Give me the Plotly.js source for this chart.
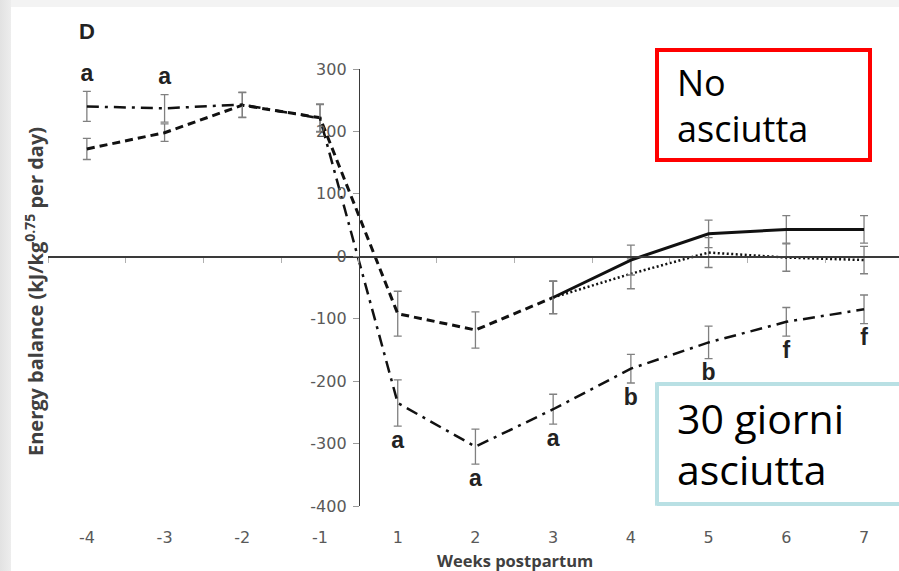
<!DOCTYPE html>
<html>
<head>
<meta charset="utf-8">
<script src="https://cdn.plot.ly/plotly-3.0.1.min.js"></script>
<style>
  html, body { margin: 0; padding: 0; }
  body { width: 899px; height: 571px; position: relative; overflow: hidden; background: #f3f3f3; }
  #strip { position: absolute; left: 0; top: 0; width: 11px; height: 571px; background: linear-gradient(to right, #e2e2e2, #ededed); }
  #sheet { position: absolute; left: 11px; top: 7px; right: 0; bottom: 0; background: #ffffff; }
  #chart { position: absolute; left: 0; top: 0; width: 899px; height: 571px; }
</style>
</head>
<body>
<div id="strip"></div>
<div id="sheet"></div>
<div id="chart"></div>
<script>
// ---- data ----
const weeks = ['-4', '-3', '-2', '-1', '1', '2', '3', '4', '5', '6', '7'];
const yTicks = [300, 200, 100, 0, -100, -200, -300, -400];

// 30-day dry period (dash-dot)
const dry30 = [240, 237, 243, 221, -235, -305, -245, -180, -138, -105, -85];
const dry30Err = [24, 22, 20, 22, 37, 28, 24, 23, 26, 23, 23];

// no dry period, weeks -4..3 (dashed)
const noDryWeeks = ['-4', '-3', '-2', '-1', '1', '2', '3'];
const noDry = [172, 198, 242, 222, -92, -118, -66];
const noDryErr = [17, 14, 20, 22, 36, 29, 26];

// no dry period, weeks 3..7, two diets (solid / dotted)
const lateWeeks = ['3', '4', '5', '6', '7'];
const noDrySolid = [-66, -6, 36, 43, 43];
const noDrySolidErr = [26, 24, 22, 22, 22];
const noDryDotted = [-66, -28, 6, -2, -6];
const noDryDottedErr = [26, 24, 24, 22, 22];

// significance letters on the 30-day series
const letterWeeks = ['-4', '-3', '1', '2', '3', '4', '5', '6', '7'];
const letters = ['a', 'a', 'a', 'a', 'a', 'b', 'b', 'f', 'f'];
const letterAbove = [true, true, false, false, false, false, false, false, false];

// ---- layout helpers ----
const W = 899, H = 571;
const M = { l: 48, r: 0, t: 69, b: 65 };
const PW = W - M.l - M.r, PH = H - M.t - M.b;
const px = v => (v - M.l) / PW;
const py = v => (H - M.b - v) / PH;
const yRange = [-400, 300];
const xRange = [-0.5, 10.45];
const unitsPerPx = (yRange[1] - yRange[0]) / PH;

const ink = '#111111';
const errStyle = (arr) => ({ type: 'data', array: arr, visible: true, color: '#808080', thickness: 1.3, width: 4 });

const letterY = letterWeeks.map((w, i) => {
  const k = weeks.indexOf(w);
  const off = 16 * unitsPerPx;
  return letterAbove[i] ? dry30[k] + dry30Err[k] + off : dry30[k] - dry30Err[k] - off;
});

const traces = [
  { x: noDryWeeks, y: noDry, type: 'scatter', mode: 'lines', xaxis: 'x', yaxis: 'y',
    line: { color: ink, width: 3, dash: '8px,5px' }, error_y: errStyle(noDryErr), hoverinfo: 'skip' },
  { x: lateWeeks, y: noDryDotted, type: 'scatter', mode: 'lines', xaxis: 'x', yaxis: 'y',
    line: { color: ink, width: 2.5, dash: '2px,2.5px' }, error_y: errStyle(noDryDottedErr), hoverinfo: 'skip' },
  { x: lateWeeks, y: noDrySolid, type: 'scatter', mode: 'lines', xaxis: 'x', yaxis: 'y',
    line: { color: ink, width: 3 }, error_y: errStyle(noDrySolidErr), hoverinfo: 'skip' },
  { x: weeks, y: dry30, type: 'scatter', mode: 'lines', xaxis: 'x2', yaxis: 'y',
    line: { color: ink, width: 2.5, dash: '12px,6px,3px,6px' }, error_y: errStyle(dry30Err), hoverinfo: 'skip' },
  { x: letterWeeks, y: letterY, type: 'scatter', mode: 'text', text: letters, xaxis: 'x', yaxis: 'y',
    textposition: 'middle center', cliponaxis: false,
    textfont: { family: 'Liberation Sans, Arial, sans-serif', size: 23, color: '#222222', weight: 'bold' }, hoverinfo: 'skip' }
];

const yPosFrac = (3.5 - xRange[0]) / (xRange[1] - xRange[0]);
const zeroFrac = (0 - yRange[0]) / (yRange[1] - yRange[0]);

const tickFont = { family: 'DejaVu Sans, sans-serif', size: 16, color: '#595959' };

const boxL = px(657), boxR = px(899), boxT = py(384), boxB = py(504);
const blue = '#b9e0e4';

const layout = {
  width: W, height: H, autosize: false,
  margin: M,
  paper_bgcolor: 'rgba(0,0,0,0)', plot_bgcolor: 'rgba(0,0,0,0)',
  showlegend: false,
  xaxis: {
    type: 'category', categoryorder: 'array', categoryarray: weeks, range: xRange,
    showgrid: false, zeroline: false, showline: false,
    ticks: 'outside', ticklen: 17, tickcolor: 'rgba(0,0,0,0)',
    tickfont: tickFont, fixedrange: true
  },
  xaxis2: {
    type: 'category', categoryorder: 'array', categoryarray: weeks, range: xRange,
    overlaying: 'x', anchor: 'free', position: zeroFrac, side: 'bottom',
    showgrid: false, zeroline: false, showline: true, linecolor: '#3a3a3a', linewidth: 1.4,
    ticks: 'outside', tickson: 'boundaries', ticklen: 5, tickcolor: '#b0b0b0', tickwidth: 1,
    showticklabels: false, fixedrange: true
  },
  yaxis: {
    range: yRange, tickmode: 'array', tickvals: yTicks, ticktext: yTicks.map(String),
    anchor: 'free', position: yPosFrac, side: 'left',
    showgrid: false, zeroline: false, showline: true, linecolor: '#3a3a3a', linewidth: 1.4,
    ticks: 'outside', ticklen: 6, tickcolor: '#9a9a9a', tickwidth: 1,
    tickfont: tickFont, ticklabelstandoff: 3, fixedrange: true
  },
  shapes: [
    { type: 'rect', xref: 'paper', yref: 'paper', layer: 'above',
      x0: px(657), x1: px(870), y0: py(160), y1: py(50),
      line: { color: '#ff0000', width: 4 }, fillcolor: '#ffffff' },
    { type: 'rect', xref: 'paper', yref: 'paper', layer: 'above',
      x0: boxL, x1: boxR + 0.01, y0: boxB, y1: boxT,
      line: { width: 0 }, fillcolor: '#ffffff' },
    { type: 'line', xref: 'paper', yref: 'paper', layer: 'above',
      x0: boxL, x1: boxR + 0.01, y0: boxT, y1: boxT, line: { color: blue, width: 4 } },
    { type: 'line', xref: 'paper', yref: 'paper', layer: 'above',
      x0: boxL, x1: boxR + 0.01, y0: boxB, y1: boxB, line: { color: blue, width: 4 } },
    { type: 'line', xref: 'paper', yref: 'paper', layer: 'above',
      x0: boxL, x1: boxL, y0: boxB - 0.004, y1: boxT + 0.004, line: { color: blue, width: 4 } }
  ],
  annotations: [
    { xref: 'paper', yref: 'paper', x: px(87), y: py(32), text: 'D', showarrow: false,
      xanchor: 'center', yanchor: 'middle',
      font: { family: 'Liberation Sans, Arial, sans-serif', size: 22, color: '#222222', weight: 'bold' } },
    { xref: 'paper', yref: 'paper', x: px(34), y: py(292), textangle: -90, showarrow: false,
      text: 'Energy balance (kJ/kg<sup>0.75</sup> per day)', xanchor: 'center', yanchor: 'middle',
      font: { family: 'Open Sans, sans-serif', size: 20, color: '#404040', weight: 'bold' } },
    { xref: 'paper', yref: 'paper', x: px(515), y: py(560), showarrow: false,
      text: 'Weeks postpartum', xanchor: 'center', yanchor: 'middle',
      font: { family: 'Open Sans, sans-serif', size: 16.5, color: '#404040', weight: 'bold' } },
    { xref: 'paper', yref: 'paper', x: px(675), y: py(82), showarrow: false, text: 'No',
      xanchor: 'left', yanchor: 'middle', font: { family: 'Open Sans, sans-serif', size: 36, color: '#000000' } },
    { xref: 'paper', yref: 'paper', x: px(675), y: py(128), showarrow: false, text: 'asciutta',
      xanchor: 'left', yanchor: 'middle', font: { family: 'Open Sans, sans-serif', size: 36, color: '#000000' } },
    { xref: 'paper', yref: 'paper', x: px(675), y: py(418), showarrow: false, text: '30 giorni',
      xanchor: 'left', yanchor: 'middle', font: { family: 'Open Sans, sans-serif', size: 41, color: '#000000' } },
    { xref: 'paper', yref: 'paper', x: px(675), y: py(469), showarrow: false, text: 'asciutta',
      xanchor: 'left', yanchor: 'middle', font: { family: 'Open Sans, sans-serif', size: 41, color: '#000000' } }
  ]
};

Plotly.newPlot('chart', traces, layout, { staticPlot: true, displayModeBar: false });
</script>
</body>
</html>
